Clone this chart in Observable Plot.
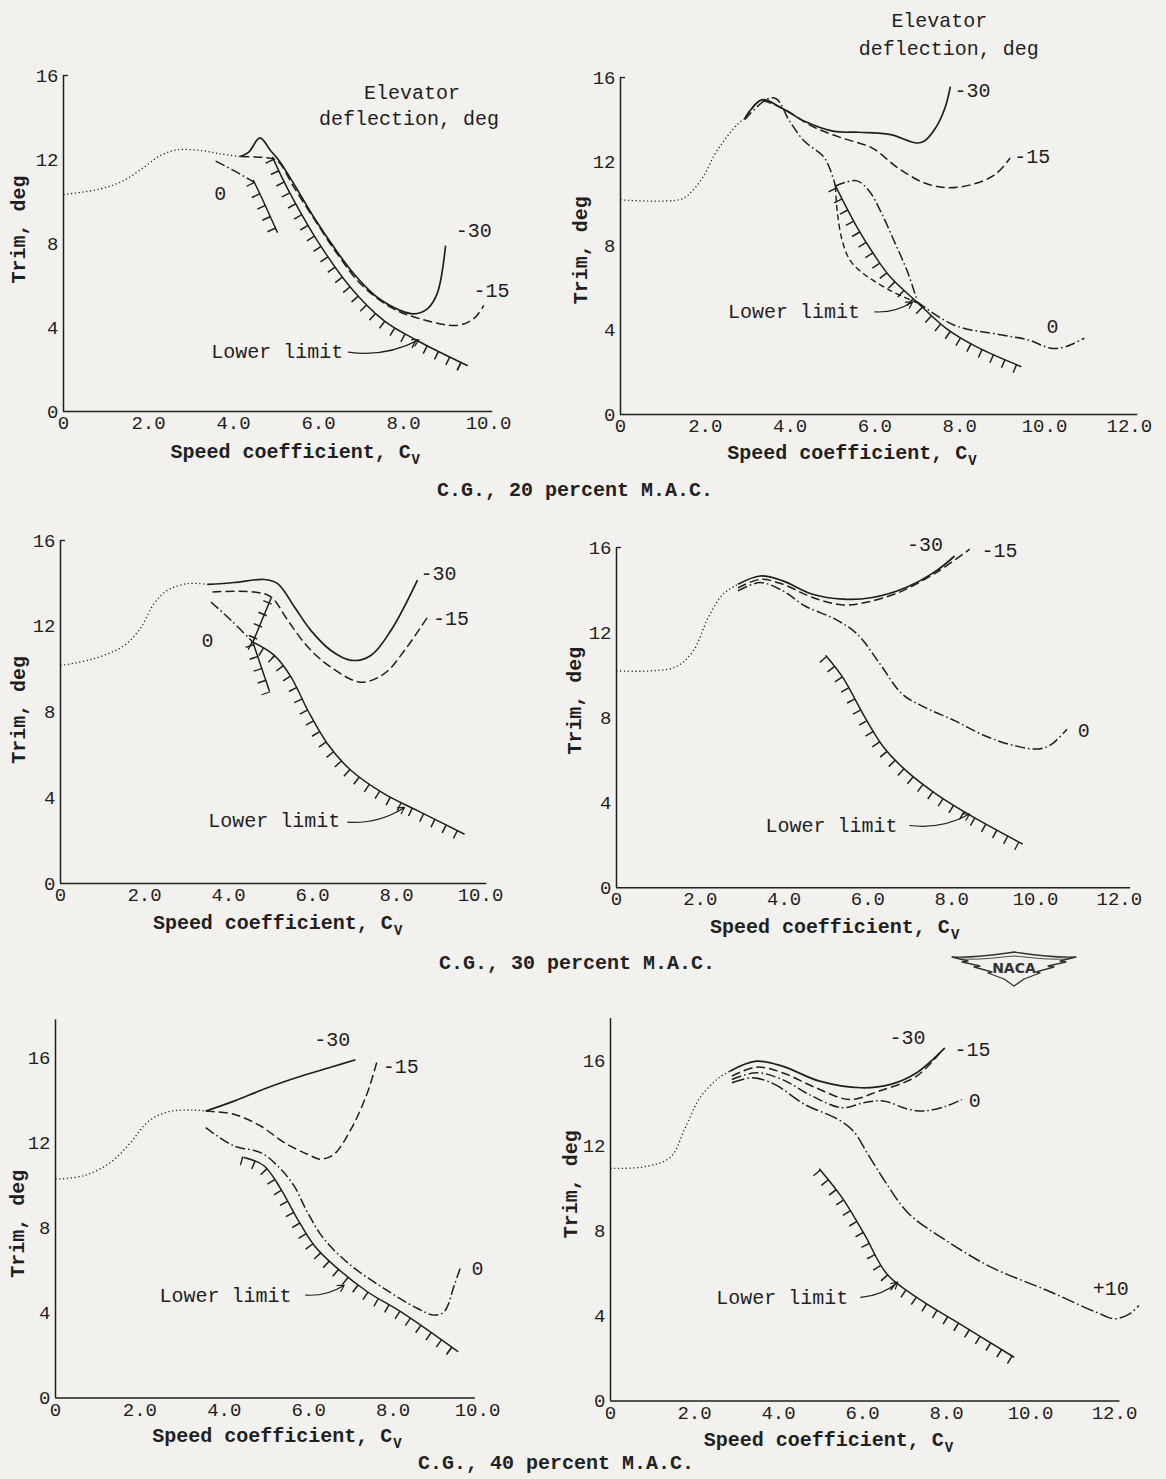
<!DOCTYPE html>
<html>
<head>
<meta charset="utf-8">
<script src="https://cdn.jsdelivr.net/npm/d3@7"></script>
<script src="https://cdn.jsdelivr.net/npm/@observablehq/plot@0.6"></script>
<style>
  html, body { margin: 0; padding: 0; background: #f2f1ed; }
  #page { position: relative; width: 1166px; height: 1479px; overflow: hidden; background: #f2f1ed;
          font-family: "Liberation Mono", "DejaVu Sans Mono", monospace; color: #222; }
  .caption { position: absolute; font-size: 20px; font-weight: bold; white-space: nowrap; transform: translate(-50%, -50%); }
  #naca { position: absolute; left: 950px; top: 948px; }
</style>
</head>
<body>
<div id="page"></div>
<script>
// ---------- tick labels ----------
const xTicks10 = [0, 2, 4, 6, 8, 10];
const xTicks12 = [0, 2, 4, 6, 8, 10, 12];
const xTickLabels = ["0", "2.0", "4.0", "6.0", "8.0", "10.0", "12.0"];
const yTicks = [0, 4, 8, 12, 16];
const yTickLabels = ["0", "4", "8", "12", "16"];

// ---------- C.G. 20 percent, left panel ----------
const p1_free = [[0,10.33],[0.87,10.6],[1.42,11.0],[1.89,11.63],[2.28,12.19],[2.67,12.46],[3.22,12.43],[3.69,12.27],[4.16,12.14]];
const p1_m30 = [[4.16,12.14],[4.36,12.35],[4.62,13.03],[4.87,12.43],[5.07,11.95],[5.42,10.84],[5.89,9.25],[6.36,7.83],[6.83,6.56],[7.38,5.44],[7.93,4.81],[8.24,4.65],[8.56,4.89],[8.79,5.6],[8.99,7.9]];
const p1_m15 = [[4.16,12.14],[4.79,12.08],[5.03,11.95],[5.42,10.68],[5.97,8.94],[6.44,7.51],[6.99,6.08],[7.69,4.97],[8.4,4.41],[9.26,4.1],[9.65,4.41],[9.89,5.05]];
const p1_zero = [[3.58,11.92],[4.0,11.48],[4.48,10.92]];
const p1_limit = [[4.92,12.1],[5.15,11.1],[5.42,10.05],[5.97,8.14],[6.75,5.92],[7.54,4.33],[8.32,3.38],[9.5,2.19]];
const p1_limitB = [[4.47,11.0],[4.75,9.8],[5.03,8.54]];

// ---------- C.G. 20 percent, right panel ----------
const p2_free = [[0,10.19],[1.43,10.22],[1.69,10.61],[1.96,11.32],[2.22,12.34],[2.49,13.13],[2.75,13.76],[2.93,14.04]];
const p2_m30 = [[2.93,14.04],[3.33,14.94],[3.81,14.54],[4.34,13.92],[5.04,13.44],[5.63,13.4],[6.37,13.29],[6.98,12.89],[7.16,12.97],[7.43,13.6],[7.65,14.54],[7.78,15.57]];
const p2_m15 = [[2.93,14.04],[3.28,14.86],[3.81,14.54],[4.52,13.68],[5.22,13.13],[5.93,12.66],[6.54,11.71],[7.16,11.0],[7.69,10.77],[8.31,10.93],[8.84,11.4],[9.19,12.18]];
const p2_zero = [[2.93,14.0],[3.46,14.98],[3.68,14.98],[3.99,13.92],[4.34,12.97],[4.78,12.26],[4.93,11.7],[5.07,10.85]];
const p2_zeroRight = [[5.07,10.85],[5.27,11.0],[5.58,11.09],[5.86,10.62],[6.13,9.67],[6.45,8.25],[6.76,6.82],[7.0,5.4]];
const p2_zeroLeft = [[5.07,10.85],[5.11,9.67],[5.23,8.25],[5.42,7.3],[5.74,6.67],[6.37,5.88],[7.0,5.3]];
const p2_zeroTail = [[7.0,5.35],[7.86,4.25],[9.0,3.77],[9.62,3.54],[10.15,3.14],[10.5,3.22],[10.94,3.62]];
const p2_limit = [[5.07,10.85],[5.58,8.88],[5.97,7.62],[6.37,6.51],[7.0,5.32],[7.68,4.09],[8.39,3.22],[9.44,2.28]];

// ---------- C.G. 30 percent, left panel ----------
const p3_free = [[0,10.17],[0.8,10.49],[1.52,11.11],[1.92,11.96],[2.23,13.06],[2.55,13.68],[3.03,13.99],[3.5,13.95]];
const p3_m30 = [[3.5,13.95],[4.14,14.04],[4.85,14.18],[5.17,13.99],[5.57,12.9],[5.96,11.81],[6.44,10.87],[6.92,10.41],[7.39,10.64],[7.87,11.81],[8.5,14.15]];
const p3_m15 = [[3.62,13.6],[4.61,13.6],[5.01,13.37],[5.41,12.28],[5.89,11.03],[6.44,10.09],[7.15,9.39],[7.71,9.79],[8.19,10.87],[8.74,12.43]];
const p3_zero = [[3.58,13.13],[4.06,12.28],[4.58,11.26]];
const p3_limit = [[4.58,11.26],[5.09,10.64],[5.49,9.63],[5.89,8.07],[6.36,6.51],[6.92,5.27],[7.71,4.18],[8.5,3.4],[9.61,2.31]];
const p3_limitA = [[5.01,13.29],[4.8,12.3],[4.58,11.26]];
const p3_limitB = [[4.58,11.26],[4.78,10.1],[4.97,9.0]];

// ---------- C.G. 30 percent, right panel ----------
const p4_free = [[0,10.2],[1.38,10.36],[1.83,11.14],[2.19,12.71],[2.54,13.8],[2.9,14.27]];
const p4_m30 = [[2.9,14.27],[3.43,14.66],[3.97,14.43],[4.68,13.8],[5.4,13.57],[6.11,13.65],[6.91,14.12],[7.63,14.9],[8.07,15.6]];
const p4_m15 = [[2.9,14.1],[3.43,14.5],[3.97,14.27],[4.68,13.65],[5.4,13.3],[5.93,13.41],[6.73,13.88],[7.63,14.82],[8.43,15.92]];
const p4_zero = [[2.9,13.96],[3.43,14.35],[3.97,13.96],[4.5,13.25],[5.22,12.63],[5.75,11.92],[6.29,10.52],[6.82,9.11],[7.36,8.48],[8.07,7.86],[8.79,7.15],[9.5,6.68],[10.08,6.53],[10.39,6.76],[10.75,7.46]];
const p4_limit = [[5.0,10.91],[5.4,9.89],[5.93,8.01],[6.38,6.6],[6.91,5.51],[7.63,4.41],[8.52,3.32],[9.68,2.07]];

// ---------- C.G. 40 percent, left panel ----------
const p5_free = [[0,10.3],[0.67,10.46],[1.3,11.08],[1.78,12.02],[2.17,12.96],[2.65,13.46],[3.28,13.55],[3.56,13.5]];
const p5_m30 = [[3.56,13.5],[4.23,13.97],[5.02,14.6],[5.81,15.14],[6.6,15.61],[7.11,15.92]];
const p5_m15 = [[3.56,13.5],[4.23,13.35],[4.86,12.8],[5.42,12.02],[5.97,11.47],[6.28,11.24],[6.6,11.47],[7.0,12.64],[7.39,14.36],[7.63,15.92]];
const p5_zero = [[3.56,12.72],[4.23,11.86],[4.86,11.55],[5.26,10.93],[5.65,9.99],[5.97,8.74],[6.36,7.49],[7.0,6.24],[7.79,5.15],[8.58,4.21],[8.97,3.9],[9.21,4.06],[9.45,5.31],[9.6,6.17]];
const p5_limit = [[4.47,11.32],[4.94,10.93],[5.34,9.83],[5.73,8.43],[6.13,7.18],[6.6,6.24],[7.39,5.0],[8.18,4.06],[9.53,2.19]];

// ---------- C.G. 40 percent, right panel ----------
const p6_free = [[0,10.95],[0.8,11.02],[1.42,11.46],[1.78,12.86],[2.13,14.27],[2.58,15.21],[2.84,15.52]];
const p6_m30 = [[2.84,15.52],[3.47,15.99],[4.09,15.76],[4.98,15.05],[5.96,14.74],[6.67,14.9],[7.29,15.45],[7.96,16.62]];
const p6_m15 = [[2.89,15.29],[3.47,15.71],[4.09,15.45],[4.89,14.74],[5.69,14.19],[6.4,14.59],[7.29,15.29],[7.91,16.54]];
const p6_zero = [[2.89,15.13],[3.47,15.45],[4.09,15.13],[4.8,14.35],[5.51,13.8],[6.04,14.04],[6.49,14.12],[7.11,13.72],[7.47,13.65],[8.0,13.88],[8.36,14.19]];
const p6_p10 = [[2.89,14.98],[3.38,15.21],[3.91,14.9],[4.62,13.96],[5.42,13.25],[5.78,12.71],[6.13,11.61],[6.58,10.2],[7.11,8.8],[8.0,7.54],[9.07,6.29],[10.4,5.2],[11.56,4.18],[12.0,3.87],[12.36,4.1],[12.58,4.49]];
const p6_limit = [[4.98,10.91],[5.51,9.58],[6.04,7.86],[6.58,5.98],[7.29,4.88],[8.18,3.79],[9.6,2.07]];

// ---------- annotations (data units) ----------
const p1_notes = [{x:3.69,y:10.4,t:"0"},{x:9.65,y:8.62,t:"-30"},{x:10.07,y:5.76,t:"-15"},{x:5.03,y:2.83,t:"Lower limit"},{x:8.2,y:15.2,t:"Elevator"},{x:8.13,y:13.94,t:"deflection, deg"}];
const p2_notes = [{x:8.3,y:15.4,t:"-30"},{x:9.71,y:12.26,t:"-15"},{x:10.19,y:4.17,t:"0"},{x:4.09,y:4.87,t:"Lower limit"},{x:7.52,y:18.7,t:"Elevator"},{x:7.74,y:17.36,t:"deflection, deg"}];
const p3_notes = [{x:9.0,y:14.46,t:"-30"},{x:9.3,y:12.35,t:"-15"},{x:3.5,y:11.35,t:"0"},{x:5.09,y:2.93,t:"Lower limit"}];
const p4_notes = [{x:7.36,y:16.15,t:"-30"},{x:9.14,y:15.84,t:"-15"},{x:11.15,y:7.39,t:"0"},{x:5.13,y:2.93,t:"Lower limit"}];
const p5_notes = [{x:6.56,y:16.86,t:"-30"},{x:8.18,y:15.61,t:"-15"},{x:10.0,y:6.09,t:"0"},{x:4.03,y:4.84,t:"Lower limit"}];
const p6_notes = [{x:7.07,y:17.09,t:"-30"},{x:8.62,y:16.54,t:"-15"},{x:8.67,y:14.12,t:"0"},{x:11.91,y:5.27,t:"+10"},{x:4.09,y:4.88,t:"Lower limit"}];
const p1_arrow = {x1:6.7,y1:2.83,x2:8.36,y2:3.41};
const p2_arrow = {x1:6.0,y1:4.87,x2:6.89,y2:5.35};
const p3_arrow = {x1:6.84,y1:2.86,x2:8.19,y2:3.55};
const p4_arrow = {x1:7.0,y1:2.93,x2:8.43,y2:3.47};
const p5_arrow = {x1:5.93,y1:4.84,x2:6.84,y2:5.31};
const p6_arrow = {x1:5.96,y1:4.88,x2:6.84,y2:5.59};

const captions = ["C.G., 20 percent M.A.C.", "C.G., 30 percent M.A.C.", "C.G., 40 percent M.A.C."];
const xTitle = "Speed coefficient, C";
const xTitleSub = "V";
const yTitle = "Trim, deg";

// ---------- styles ----------
const INK = "#1f1f1f";
const LINE = {
  free:  {strokeWidth: 1.3, strokeDasharray: "1.2 2.6"},
  m30:   {strokeWidth: 1.7},
  m15:   {strokeWidth: 1.5, strokeDasharray: "9 4"},
  zero:  {strokeWidth: 1.5, strokeDasharray: "10 3 1.6 3"},
  dash:  {strokeWidth: 1.4, strokeDasharray: "6 3.5"},
  p10:   {strokeWidth: 1.5, strokeDasharray: "13 3 1.6 3"}
};

// ---------- layout of each panel on the page ----------
const panels = [
  {x0: 63,    ppx: 42.5, xMax: 10, xEnd: 10.1,  y0: 411,  ppy: 21.0,  yMax: 16, yEnd: 16,  mT: 70, mR: 60, ticks: xTicks10,
   series: [[p1_free,"free"],[p1_m30,"m30"],[p1_m15,"m15"],[p1_zero,"zero"]], limits: [p1_limit, p1_limitB],
   notes: p1_notes, arrow: p1_arrow, xt: 2.52, xtDy: 46, yt: 8.67, ytDx: 45},
  {x0: 620,   ppx: 42.4, xMax: 12, xEnd: 12.2,  y0: 414,  ppy: 21.06, yMax: 16, yEnd: 16,  mT: 70, mR: 35, ticks: xTicks12,
   series: [[p2_free,"free"],[p2_m30,"m30"],[p2_m15,"m15"],[p2_zero,"zero"],[p2_zeroRight,"zero"],[p2_zeroLeft,"dash"],[p2_zeroTail,"zero"]], limits: [p2_limit],
   notes: p2_notes, arrow: p2_arrow, xt: 2.52, xtDy: 45, yt: 7.8, ytDx: 40},
  {x0: 59.5,  ppx: 42.0, xMax: 10, xEnd: 10.15, y0: 883,  ppy: 21.44, yMax: 16, yEnd: 16,  mT: 70, mR: 60, ticks: xTicks10,
   series: [[p3_free,"free"],[p3_m30,"m30"],[p3_m15,"m15"],[p3_zero,"zero"]], limits: [p3_limit, p3_limitA, p3_limitB],
   notes: p3_notes, arrow: p3_arrow, xt: 2.2, xtDy: 45, yt: 8.1, ytDx: 42},
  {x0: 615.5, ppx: 41.9, xMax: 12, xEnd: 12.27, y0: 887,  ppy: 21.27, yMax: 16, yEnd: 16,  mT: 70, mR: 35, ticks: xTicks12,
   series: [[p4_free,"free"],[p4_m30,"m30"],[p4_m15,"m15"],[p4_zero,"zero"]], limits: [p4_limit],
   notes: p4_notes, arrow: p4_arrow, xt: 2.23, xtDy: 45, yt: 8.8, ytDx: 42},
  {x0: 55,    ppx: 42.2, xMax: 10, xEnd: 9.95,  y0: 1397, ppy: 21.25, yMax: 18, yEnd: 17.8, mT: 30, mR: 60, ticks: xTicks10,
   series: [[p5_free,"free"],[p5_m30,"m30"],[p5_m15,"m15"],[p5_zero,"zero"]], limits: [p5_limit],
   notes: p5_notes, arrow: p5_arrow, xt: 2.29, xtDy: 44, yt: 8.2, ytDx: 38},
  {x0: 610,   ppx: 42.0, xMax: 12, xEnd: 12.13, y0: 1400, ppy: 21.25, yMax: 18, yEnd: 18,  mT: 30, mR: 35, ticks: xTicks12,
   series: [[p6_free,"free"],[p6_m30,"m30"],[p6_m15,"m15"],[p6_zero,"zero"],[p6_p10,"p10"]], limits: [p6_limit],
   notes: p6_notes, arrow: p6_arrow, xt: 2.22, xtDy: 45, yt: 10.2, ytDx: 40}
];

const page = document.getElementById("page");
const FS = 20;
const TFS = 19;

function drawPanel(cfg) {
  const mL = 60, mB = 60;
  const W = cfg.xMax * cfg.ppx, H = cfg.yMax * cfg.ppy;
  const xy = {x: d => d[0], y: d => d[1], curve: "catmull-rom", stroke: INK};
  const marks = [
    Plot.ruleY([0], {x1: 0, x2: cfg.xEnd, stroke: INK, strokeWidth: 1.5}),
    Plot.ruleX([0], {y1: 0, y2: cfg.yEnd, stroke: INK, strokeWidth: 1.5}),
    Plot.axisX({ticks: cfg.ticks, tickFormat: d => xTickLabels[xTicks12.indexOf(d)], tickSize: 0, tickPadding: 4, fontSize: TFS, label: null}),
    Plot.axisY({ticks: yTicks, tickFormat: d => yTickLabels[yTicks.indexOf(d)], tickSize: 0, tickPadding: 5, fontSize: TFS, label: null})
  ];
  if (cfg.yMax === 16) marks.push(Plot.ruleY([16], {x1: 0, x2: 0.12, stroke: INK, strokeWidth: 1.3}));
  for (const [data, style] of cfg.series) {
    marks.push(Plot.line(data, {...xy, ...LINE[style], strokeLinecap: "butt"}));
  }
  for (const lim of cfg.limits) {
    marks.push(Plot.line(lim, {...xy, strokeWidth: 1.5}));
    marks.push(Plot.line(lim, {...xy, strokeWidth: 9, strokeDasharray: "1.5 11", strokeLinecap: "butt", dx: -3.2, dy: 3.2}));
  }
  marks.push(Plot.text(cfg.notes, {x: "x", y: "y", text: "t", fontSize: FS, fill: INK}));
  marks.push(Plot.arrow([cfg.arrow], {x1: "x1", y1: "y1", x2: "x2", y2: "y2", bend: -18, headLength: 9, stroke: INK, strokeWidth: 1.2}));
  marks.push(Plot.text([xTitle], {x: () => cfg.xt, frameAnchor: "bottom", textAnchor: "start", dy: cfg.xtDy, fontSize: FS, fontWeight: "bold", fill: INK}));
  marks.push(Plot.text([xTitleSub], {x: () => cfg.xt, frameAnchor: "bottom", textAnchor: "start", dx: xTitle.length * 0.6 * FS + 1, dy: cfg.xtDy + 6, fontSize: 14, fontWeight: "bold", fill: INK}));
  marks.push(Plot.text([yTitle], {y: () => cfg.yt, frameAnchor: "left", textAnchor: "middle", rotate: -90, dx: -cfg.ytDx, fontSize: FS, fontWeight: "bold", fill: INK}));

  const svg = Plot.plot({
    width: mL + W + cfg.mR, height: cfg.mT + H + mB,
    marginLeft: mL, marginRight: cfg.mR, marginTop: cfg.mT, marginBottom: mB,
    x: {domain: [0, cfg.xMax]}, y: {domain: [0, cfg.yMax]},
    style: {background: "transparent", color: INK, fontFamily: "'Liberation Mono', 'DejaVu Sans Mono', monospace", fontSize: FS + "px", overflow: "visible"},
    marks
  });
  svg.style.position = "absolute";
  svg.style.left = (cfg.x0 - mL) + "px";
  svg.style.top = (cfg.y0 - H - cfg.mT) + "px";
  page.appendChild(svg);
}
panels.forEach(drawPanel);

// captions
const capPos = [[575, 490], [577, 963], [556, 1463]];
captions.forEach((c, i) => {
  const d = document.createElement("div");
  d.className = "caption";
  d.textContent = c;
  d.style.left = capPos[i][0] + "px";
  d.style.top = capPos[i][1] + "px";
  page.appendChild(d);
});

// NACA emblem
const naca = document.createElement("div");
naca.id = "naca";
naca.innerHTML = `<svg width="128" height="42" viewBox="0 0 128 42">
  <path d="M2 9 C30 10 50 6 64 4 C78 6 98 10 126 9 L110 13 L116 14 L98 18 L104 19 L86 24 L90 25 L74 31 L64 38 L54 31 L38 25 L42 24 L24 19 L30 18 L12 14 L18 13 Z"
        fill="none" stroke="#333" stroke-width="1.3" stroke-linejoin="round"/>
  <path d="M10 11 C34 12 50 9 64 8 C78 9 94 12 118 11" fill="none" stroke="#333" stroke-width="0.9"/>
  <text x="64" y="25" text-anchor="middle" font-family="'DejaVu Sans', sans-serif" font-size="14" font-weight="bold" fill="#333">NACA</text>
</svg>`;
page.appendChild(naca);
</script>
</body>
</html>
